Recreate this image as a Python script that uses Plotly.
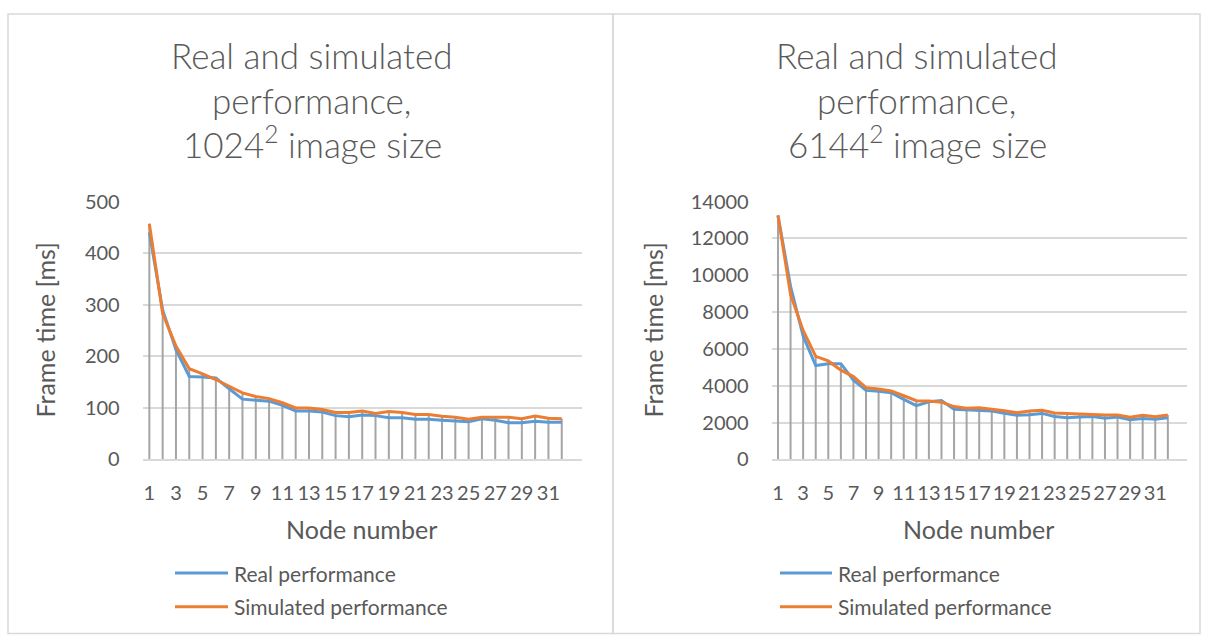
import plotly.graph_objects as go

# Frame time per node count (ms)
nodes = list(range(1, 33))
real_1024 = [440, 290, 213, 161, 160, 158, 137, 117, 115, 113, 105, 94, 94, 92, 85, 83,
             86, 85, 81, 81, 78, 78, 76, 74, 73, 79, 76, 71, 71, 74, 72, 72]
sim_1024 = [457, 283, 220, 176, 166, 155, 142, 129, 122, 118, 110, 100, 100, 97, 91, 91,
            94, 89, 93, 91, 87, 87, 84, 82, 78, 82, 82, 82, 79, 84, 80, 79]
real_6144 = [13250, 9400, 6700, 5100, 5200, 5200, 4300, 3750, 3700, 3620, 3260, 2920, 3130,
             3200, 2720, 2690, 2690, 2630, 2510, 2400, 2430, 2500, 2330, 2270, 2300, 2330,
             2240, 2300, 2160, 2220, 2180, 2270]
sim_6144 = [13250, 8950, 7000, 5600, 5350, 4850, 4500, 3900, 3820, 3720, 3460, 3190, 3170,
            3110, 2870, 2780, 2810, 2740, 2650, 2540, 2630, 2670, 2520, 2500, 2470, 2450,
            2420, 2420, 2290, 2400, 2320, 2420]

x_tick_nodes = list(range(1, 32, 2))
y_ticks_1024 = [0, 100, 200, 300, 400, 500]
y_ticks_6144 = [0, 2000, 4000, 6000, 8000, 10000, 12000, 14000]

series_names = ["Real performance", "Simulated performance"]
title_lines_1024 = ["Real and simulated", "performance,", "1024<sup>2</sup> image size"]
title_lines_6144 = ["Real and simulated", "performance,", "6144<sup>2</sup> image size"]

W, H = 1208, 635
FONT = "Lato"
TEXT = "#595959"
GRID = "#d9d9d9"
BLUE = "#5b9bd5"
ORANGE = "#ed7d31"
DROP = "#a5a5a5"


def px(x):
    return x / W


def py(y):
    return 1 - y / H


panels = [
    dict(real=real_1024, sim=sim_1024, yticks=y_ticks_1024, title=title_lines_1024,
         plot_x=(142.7, 581.7), title_x=312, ytitle_x=45, xtitle_x=362,
         legend_x=(175, 228), xa="x", ya="y"),
    dict(real=real_6144, sim=sim_6144, yticks=y_ticks_6144, title=title_lines_6144,
         plot_x=(771.7, 1186.7), title_x=917, ytitle_x=653, xtitle_x=979,
         legend_x=(780, 832), xa="x2", ya="y2"),
]

PLOT_TOP, PLOT_BOTTOM = 196, 464
TITLE_Y = [44, 90, 134]
XTITLE_Y = 536
LEGEND_Y = [582, 617]

fig = go.Figure()
annotations = []
shapes = []

for i, p in enumerate(panels):
    # drop lines from the higher series down to the axis
    dx, dy = [], []
    for n, r, s in zip(nodes, p["real"], p["sim"]):
        dx += [n, n, None]
        dy += [max(r, s), 0, None]
    fig.add_trace(go.Scatter(x=dx, y=dy, mode="lines", xaxis=p["xa"], yaxis=p["ya"],
                             line=dict(color=DROP, width=2), hoverinfo="skip",
                             showlegend=False))
    fig.add_trace(go.Scatter(x=nodes, y=p["real"], mode="lines", name=series_names[0],
                             xaxis=p["xa"], yaxis=p["ya"],
                             line=dict(color=BLUE, width=3), showlegend=False))
    fig.add_trace(go.Scatter(x=nodes, y=p["sim"], mode="lines", name=series_names[1],
                             xaxis=p["xa"], yaxis=p["ya"],
                             line=dict(color=ORANGE, width=3), showlegend=False))

    suffix = "" if i == 0 else "2"
    fig.update_layout(**{
        "xaxis" + suffix: dict(
            domain=[px(p["plot_x"][0]), px(p["plot_x"][1])], range=[0.5, 33.5],
            anchor="y" + suffix, tickvals=x_tick_nodes, ticktext=[str(v) for v in x_tick_nodes],
            tickangle=0, showgrid=False, zeroline=False, showline=True, linecolor=GRID,
            linewidth=1.5, ticks="", tickfont=dict(family=FONT, size=20, color=TEXT),
            ticklabelstandoff=15, fixedrange=True),
        "yaxis" + suffix: dict(
            domain=[py(PLOT_BOTTOM), py(PLOT_TOP)], range=[0, p["yticks"][-1]],
            anchor="x" + suffix, tickvals=p["yticks"], ticktext=[str(v) for v in p["yticks"]],
            showgrid=True, gridcolor=GRID, gridwidth=1.5, zeroline=False, showline=False,
            ticks="", tickfont=dict(family=FONT, size=20, color=TEXT), ticklabelstandoff=22,
            fixedrange=True),
    })

    for line, yy in zip(p["title"], TITLE_Y):
        annotations.append(dict(text=line, x=px(p["title_x"]), y=py(yy), xref="paper",
                                yref="paper", xanchor="center", yanchor="middle",
                                showarrow=False,
                                font=dict(family=FONT, size=35, color=TEXT, weight=300)))
    annotations.append(dict(text="Frame time [ms]", x=px(p["ytitle_x"]),
                            y=py((PLOT_TOP + PLOT_BOTTOM) / 2), xref="paper", yref="paper",
                            xanchor="center", yanchor="middle", textangle=-90,
                            showarrow=False, font=dict(family=FONT, size=25, color=TEXT)))
    annotations.append(dict(text="Node number", x=px(p["xtitle_x"]), y=py(XTITLE_Y),
                            xref="paper", yref="paper", xanchor="center", yanchor="middle",
                            showarrow=False, font=dict(family=FONT, size=25, color=TEXT)))
    # legend entries
    for name, color, yy in zip(series_names, [BLUE, ORANGE], LEGEND_Y):
        shapes.append(dict(type="line", xref="paper", yref="paper",
                           x0=px(p["legend_x"][0]), x1=px(p["legend_x"][1]),
                           y0=py(yy), y1=py(yy), line=dict(color=color, width=3)))
        annotations.append(dict(text=name, x=px(p["legend_x"][1] + 4), y=py(yy),
                                xref="paper", yref="paper", xanchor="left",
                                yanchor="middle", showarrow=False,
                                font=dict(family=FONT, size=21, color=TEXT)))

# chart area borders
for x0, x1 in [(8, 613), (613, 1200)]:
    shapes.append(dict(type="rect", xref="paper", yref="paper", x0=px(x0), x1=px(x1),
                       y0=py(645), y1=py(1), line=dict(color=GRID, width=1.5),
                       fillcolor="rgba(0,0,0,0)", layer="below"))

fig.update_layout(width=W, height=H, margin=dict(l=0, r=0, t=0, b=0),
                  paper_bgcolor="white", plot_bgcolor="white",
                  annotations=annotations, shapes=shapes, showlegend=False)

fig.write_html("out.html", config={"displayModeBar": False})
